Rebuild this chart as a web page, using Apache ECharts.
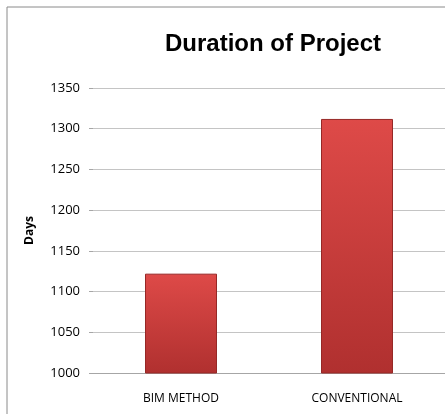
<!DOCTYPE html>
<html>
<head>
<meta charset="utf-8">
<script src="https://cdn.jsdelivr.net/npm/echarts@6/dist/echarts.min.js"></script>
<style>
  html, body { margin: 0; padding: 0; background: #fff; }
  #chart { width: 445px; height: 414px; }
</style>
</head>
<body>
<div id="chart"></div>
<script>
// data
const categories = ['BIM METHOD', 'CONVENTIONAL'];
const durations = [1122, 1312];
const yMin = 1000;
const yMax = 1350;
const yStep = 50;

const chart = echarts.init(document.getElementById('chart'), null, { renderer: 'canvas' });
const font = '"Open Sans", "Liberation Sans", sans-serif';

chart.setOption({
  backgroundColor: '#fff',
  animation: false,
  title: {
    text: 'Duration of Project',
    left: 268,
    top: 27,
    textAlign: 'center',
    textStyle: { fontFamily: '"Liberation Sans", sans-serif', fontSize: 24, fontWeight: 'bold', color: '#000' }
  },
  // chart frame (left and top edges visible)
  graphic: [{
    type: 'rect',
    shape: { x: 7, y: 7, width: 460, height: 440 },
    style: { fill: 'none', stroke: '#8a8a8a', lineWidth: 1 },
    silent: true
  }],
  grid: { left: 93, top: 88, width: 362, height: 285 },
  xAxis: {
    type: 'category',
    data: categories,
    axisLine: { lineStyle: { color: '#a6a6a6' } },
    axisTick: { show: false },
    axisLabel: { fontFamily: font, fontSize: 12, color: '#000', margin: 20 }
  },
  yAxis: {
    type: 'value',
    min: yMin,
    max: yMax,
    interval: yStep,
    name: 'Days',
    nameLocation: 'middle',
    nameGap: 57,
    nameRotate: 90,
    nameTextStyle: { fontFamily: font, fontSize: 12, fontWeight: 'bold', color: '#000' },
    axisLine: { show: false },
    axisTick: { show: true, length: 4, lineStyle: { color: '#a6a6a6' } },
    axisLabel: { fontFamily: font, fontSize: 13, color: '#000', margin: 13, formatter: v => String(v) },
    splitLine: { lineStyle: { color: '#c4c4c4' } }
  },
  series: [{
    type: 'bar',
    data: durations,
    barWidth: 72,
    itemStyle: {
      color: new echarts.graphic.LinearGradient(0, 0, 0, 1, [
        { offset: 0, color: '#de4a48' },
        { offset: 1, color: '#b0302f' }
      ]),
      borderColor: '#962826',
      borderWidth: 1
    }
  }]
});
</script>
</body>
</html>
